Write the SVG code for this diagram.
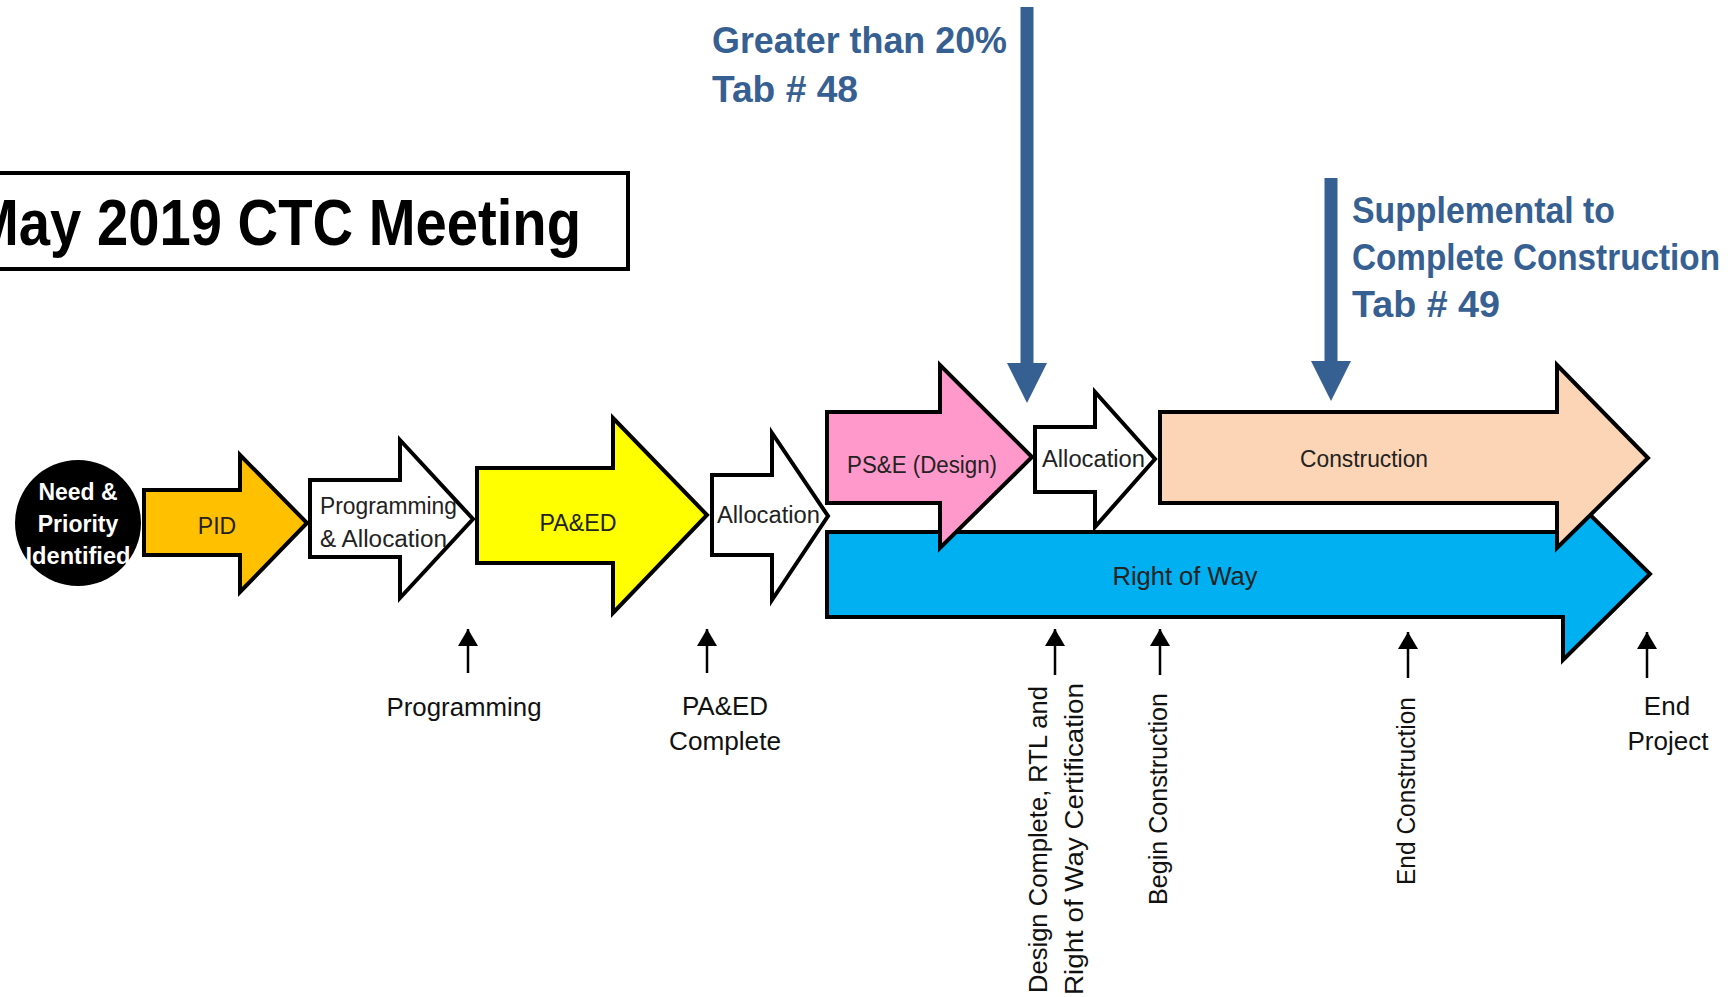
<svg xmlns="http://www.w3.org/2000/svg" width="1730" height="997" viewBox="0 0 1730 997">
<defs>
<style>
.shape{stroke:#000;stroke-width:4;stroke-linejoin:miter}
.lbl{font-family:"Liberation Sans",Arial,sans-serif;font-size:23px;fill:#222}
.ms{font-family:"Liberation Sans",Arial,sans-serif;font-size:26px;fill:#111}
.note{font-family:"Liberation Sans",Arial,sans-serif;font-size:36px;font-weight:bold;fill:#376092}
.tick{stroke:#000;stroke-width:2.5;marker-end:url(#tickHead)}
.callout{stroke:#376092;stroke-width:13;marker-end:url(#blueHead)}
</style>
<marker id="tickHead" markerUnits="userSpaceOnUse" markerWidth="18" markerHeight="20" refX="17" refY="10" orient="auto" viewBox="0 0 18 20">
<path d="M0,0 L17,10 L0,20 z" fill="#000"/>
</marker>
<marker id="blueHead" markerUnits="userSpaceOnUse" markerWidth="40" markerHeight="40" refX="0" refY="20" orient="auto" viewBox="0 0 40 40">
<path d="M0,0 L40,20 L0,40 z" fill="#376092"/>
</marker>
</defs>
<rect width="1730" height="997" fill="#fff"/>

<g id="title">
<rect x="-6" y="173" width="634" height="96" fill="#fff" stroke="#000" stroke-width="4"/>
<text x="581" y="245" text-anchor="end" textLength="609" lengthAdjust="spacingAndGlyphs" style="font-family:'Liberation Sans',Arial,sans-serif;font-size:64px;font-weight:bold;fill:#000">May 2019 CTC Meeting</text>
</g>

<g id="need">
<circle cx="78" cy="523" r="63" fill="#000"/>
<text x="78" y="500" text-anchor="middle" style="font-family:'Liberation Sans',Arial,sans-serif;font-size:23px;font-weight:bold;fill:#fff">Need &amp;</text>
<text x="78" y="532" text-anchor="middle" style="font-family:'Liberation Sans',Arial,sans-serif;font-size:23px;font-weight:bold;fill:#fff">Priority</text>
<text x="78" y="564" text-anchor="middle" textLength="105" lengthAdjust="spacingAndGlyphs" style="font-family:'Liberation Sans',Arial,sans-serif;font-size:23px;font-weight:bold;fill:#fff">Identified</text>
</g>

<g id="pid">
<polygon class="shape" fill="#FFC000" points="144,490 240,490 240,455 307,523 240,592 240,555 144,555"/>
<text class="lbl" x="217" y="534" text-anchor="middle">PID</text>
</g>

<g id="prog-alloc">
<polygon class="shape" fill="#fff" points="310,480 400,480 400,440 473,519 400,598 400,557 310,557"/>
<text class="lbl" x="320" y="514" textLength="137" lengthAdjust="spacingAndGlyphs">Programming</text>
<text class="lbl" x="320" y="547" textLength="127" lengthAdjust="spacingAndGlyphs">&amp; Allocation</text>
</g>

<g id="paed">
<polygon class="shape" fill="#FFFF00" points="477,468 613,468 613,418 707,515 613,613 613,563 477,563"/>
<text class="lbl" x="578" y="531" text-anchor="middle" textLength="77" lengthAdjust="spacingAndGlyphs">PA&amp;ED</text>
</g>

<g id="alloc1">
<polygon class="shape" fill="#fff" points="712,475 772,475 772,433 828,516 772,600 772,555 712,555"/>
<text class="lbl" x="717" y="523" textLength="103" lengthAdjust="spacingAndGlyphs">Allocation</text>
</g>

<g id="row">
<polygon class="shape" fill="#00B0F0" points="827,532 1563,532 1563,488 1650,574 1563,660 1563,617 827,617"/>
<text class="lbl" x="1185" y="585" text-anchor="middle" textLength="145" lengthAdjust="spacingAndGlyphs" style="font-size:25px">Right of Way</text>
</g>

<g id="pse">
<polygon class="shape" fill="#FF99CC" points="827,412 940,412 940,365 1032,457 940,548 940,503 827,503"/>
<text class="lbl" x="847" y="473" textLength="150" lengthAdjust="spacingAndGlyphs">PS&amp;E (Design)</text>
</g>

<g id="alloc2">
<polygon class="shape" fill="#fff" points="1035,427 1095,427 1095,392 1155,459 1095,527 1095,492 1035,492"/>
<text class="lbl" x="1042" y="467" textLength="103" lengthAdjust="spacingAndGlyphs">Allocation</text>
</g>

<g id="construction">
<polygon class="shape" fill="#FBD5B5" points="1160,412 1557,412 1557,365 1648,458 1557,548 1557,503 1160,503"/>
<text class="lbl" x="1364" y="467" text-anchor="middle" textLength="128" lengthAdjust="spacingAndGlyphs">Construction</text>
</g>

<g id="note48">
<text class="note" x="712" y="53" textLength="295" lengthAdjust="spacingAndGlyphs">Greater than 20%</text>
<text class="note" x="712" y="102" textLength="146" lengthAdjust="spacingAndGlyphs">Tab # 48</text>
</g>

<g id="note49">
<text class="note" x="1352" y="223" textLength="263" lengthAdjust="spacingAndGlyphs">Supplemental to</text>
<text class="note" x="1352" y="270" textLength="368" lengthAdjust="spacingAndGlyphs">Complete Construction</text>
<text class="note" x="1352" y="317" textLength="148" lengthAdjust="spacingAndGlyphs">Tab # 49</text>
</g>

<g id="milestones">
<text class="ms" x="464" y="716" text-anchor="middle" textLength="155" lengthAdjust="spacingAndGlyphs">Programming</text>
<text class="ms" x="725" y="715" text-anchor="middle">PA&amp;ED</text>
<text class="ms" x="725" y="750" text-anchor="middle" textLength="112" lengthAdjust="spacingAndGlyphs">Complete</text>
<text class="ms" transform="translate(1047,993) rotate(-90)" textLength="307" lengthAdjust="spacingAndGlyphs">Design Complete, RTL and</text>
<text class="ms" transform="translate(1083,995) rotate(-90)" textLength="312" lengthAdjust="spacingAndGlyphs">Right of Way Certification</text>
<text class="ms" transform="translate(1167,905) rotate(-90)" textLength="212" lengthAdjust="spacingAndGlyphs">Begin Construction</text>
<text class="ms" transform="translate(1415,885) rotate(-90)" textLength="188" lengthAdjust="spacingAndGlyphs">End Construction</text>
<text class="ms" x="1667" y="715" text-anchor="middle">End</text>
<text class="ms" x="1668" y="750" text-anchor="middle">Project</text>
</g>

<g id="connectors">
<line class="tick" x1="468" y1="673" x2="468" y2="629"/>
<line class="tick" x1="707" y1="673" x2="707" y2="629"/>
<line class="tick" x1="1055" y1="675" x2="1055" y2="629"/>
<line class="tick" x1="1160" y1="675" x2="1160" y2="629"/>
<line class="tick" x1="1408" y1="678" x2="1408" y2="632"/>
<line class="tick" x1="1647" y1="678" x2="1647" y2="632"/>
<line class="callout" x1="1027" y1="7" x2="1027" y2="363"/>
<line class="callout" x1="1331" y1="178" x2="1331" y2="361"/>
</g>
</svg>
